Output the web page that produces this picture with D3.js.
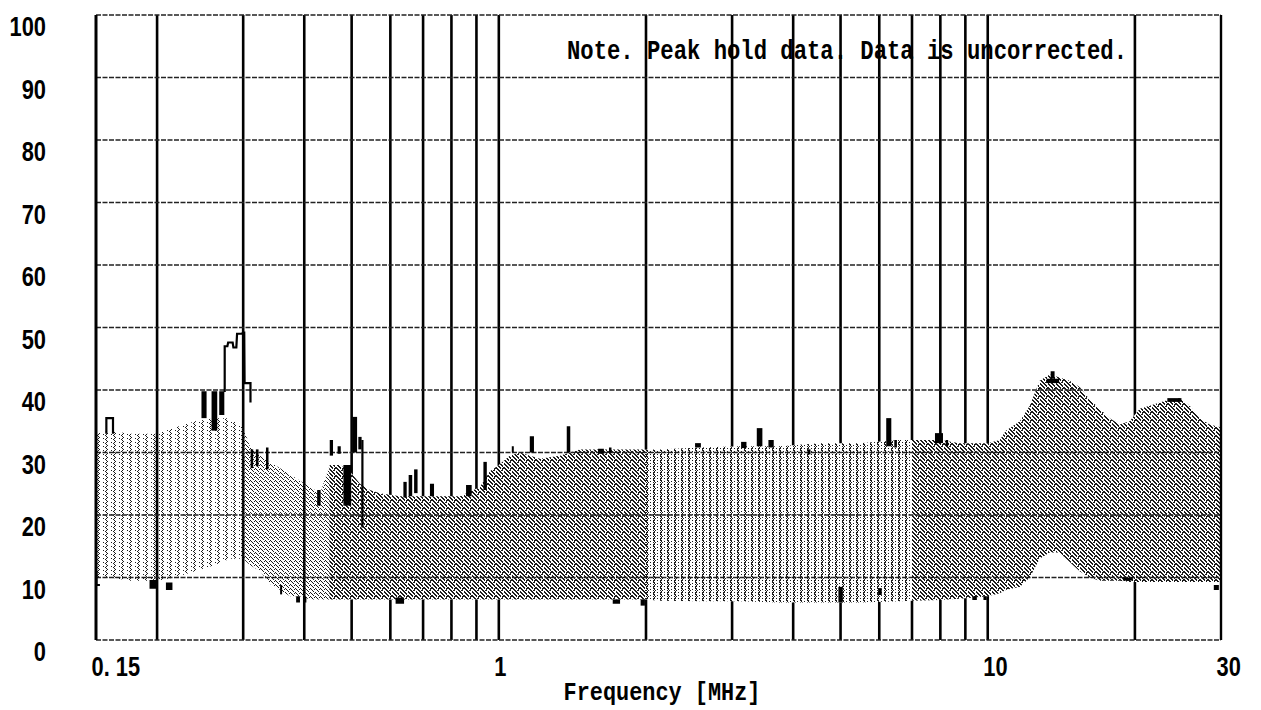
<!DOCTYPE html>
<html>
<head>
<meta charset="utf-8">
<script src="https://cdn.jsdelivr.net/npm/d3@7"></script>
<style>
  html, body { margin: 0; padding: 0; background: #fff; }
  svg { display: block; }
</style>
</head>
<body>
<svg id="chart" width="1261" height="710"></svg>
<script>
// ---- data -------------------------------------------------------------
const levelTicks = [0, 10, 20, 30, 40, 50, 60, 70, 80, 90, 100];
const freqTickValues = [0.15, 1, 10, 30];
const freqTickLabels = ["0. 15", "1", "10", "30"];
const gridFreqs = [0.2, 0.3, 0.4, 0.5, 0.6, 0.7, 0.8, 0.9, 1,
                   2, 3, 4, 5, 6, 7, 8, 9, 10, 20];

// envelope of the swept emission (MHz, dBuV)
const bandFreq   = [0.15, 0.16, 0.176, 0.193, 0.2, 0.2176, 0.239, 0.2627, 0.282, 0.30,
                    0.3097, 0.325, 0.34, 0.357, 0.374, 0.392, 0.411, 0.431, 0.451, 0.473,
                    0.496, 0.52, 0.545, 0.571, 0.628, 0.69, 0.758, 0.833, 0.915, 0.959,
                    1.0, 1.053, 1.104, 1.213, 1.332, 1.464, 1.609, 1.768, 1.99, 2.134,
                    2.576, 3.11, 3.755, 4.533, 5.473, 6.607, 7.976, 8.764, 10, 10.58,
                    10.89, 11.63, 12.19, 12.77, 13.39, 14.03, 14.71, 15.42, 16.16, 16.94,
                    17.76, 18.62, 19.51, 20.46, 21.44, 22.47, 23.56, 24.7, 25.89, 27.13,
                    28.44, 30];
const bandTop    = [33, 33.5, 33, 33, 33, 34, 35, 35.5, 35.5, 34,
                    31, 29.5, 28.5, 27.5, 26.5, 25.5, 24.5, 23.5, 28, 28,
                    27, 25, 24, 23.5, 23, 23, 23, 23, 24.5, 27,
                    28, 29.5, 30, 29, 29.5, 30.5, 30.5, 30.5, 30.5, 30.5,
                    30.8, 31, 31, 31.5, 31.5, 32, 32, 31.5, 31.5, 32,
                    33.5, 35, 37.5, 41.5, 42.5, 42, 41.5, 40.5, 38.5, 37,
                    35.5, 34.5, 35, 37, 37.5, 38, 38.5, 38.7, 37.5, 35.5,
                    34.5, 34];
const bandBottom = [10, 10, 9.5, 9.5, 9.5, 10, 11, 12, 13, 13,
                    12, 11, 9, 8, 7, 7, 6.5, 6.5, 6.5, 6.5,
                    6.5, 6.5, 6.5, 6.5, 6.5, 6.5, 6.5, 6.5, 6.5, 6.5,
                    6.5, 6.5, 6.5, 6.5, 6.5, 6.5, 6.5, 6.5, 6.5, 6.3,
                    6.2, 6.2, 6, 6, 6, 6.2, 6.4, 6.6, 7, 7.5,
                    8, 8.5, 10, 13, 14, 14, 12.5, 11, 10, 9.5,
                    9.5, 9.5, 9.3, 9.3, 9.3, 9.3, 9.3, 9.3, 9.3, 9.3,
                    9.3, 9.3];

// frequency ranges of the different sweep densities
const zoneEdges = [0.15, 0.30, 0.45, 2.0, 7.0, 30];
const zoneKinds = ["sparse", "medium", "dense", "stripe", "dense"];

// peak-hold trace outlines: [MHz, dBuV]
const traceSegments = [
  [[0.1575, 33], [0.1575, 35.5], [0.1625, 35.5], [0.1625, 33]],
  [[0.1503, 11], [0.1503, 8.8], [0.1528, 8.8]],
  [[0.275, 39.7], [0.275, 47], [0.2785, 47], [0.2795, 47.6], [0.2855, 47.6],
   [0.2865, 46.8], [0.2905, 46.8], [0.2915, 49], [0.2985, 49], [0.2995, 49.2],
   [0.3015, 49.2], [0.302, 41.1], [0.3105, 41.1], [0.3105, 38]],
  [[0.526, 32], [0.526, 18]]
];

// peak-hold blocks: [f start MHz, f end MHz, top dBuV, bottom dBuV]
const peakBars = [
  [0.193, 0.199, 9.6, 8.2], [0.2085, 0.215, 9.2, 8.0],
  [0.2465, 0.2525, 39.8, 35.5], [0.2585, 0.2655, 39.8, 33.5], [0.268, 0.2745, 39.8, 36],
  [0.2985, 0.3025, 49.2, 41.1],
  [0.3107, 0.3145, 30.5, 27.5], [0.3185, 0.3225, 30.5, 27.8], [0.334, 0.338, 30.8, 27.3],
  [0.357, 0.3595, 8.8, 7.3], [0.385, 0.392, 7, 6], [0.398, 0.404, 6.9, 6],
  [0.425, 0.432, 24, 21.5], [0.451, 0.458, 32, 29.5], [0.468, 0.475, 31, 29.8],
  [0.481, 0.499, 28, 21.5], [0.502, 0.513, 35.7, 30], [0.516, 0.524, 32.5, 30.5],
  [0.615, 0.64, 6.8, 5.8], [0.638, 0.648, 25.3, 22.8], [0.654, 0.665, 26.4, 23],
  [0.671, 0.682, 27.3, 23.5], [0.723, 0.737, 25, 23], [0.857, 0.88, 24.8, 23],
  [0.93, 0.945, 28.5, 24], [1.063, 1.073, 31, 30], [1.157, 1.18, 32.6, 30],
  [1.377, 1.40, 34.2, 30], [1.596, 1.64, 30.6, 29.8], [1.68, 1.70, 30.8, 30],
  [1.71, 1.77, 6.5, 5.8], [1.95, 1.99, 6.5, 5.5],
  [2.52, 2.59, 31.5, 30.8], [3.13, 3.21, 31.7, 30.7], [3.37, 3.46, 33.9, 31],
  [3.56, 3.65, 32, 30.8], [4.28, 4.34, 30.5, 29.7], [4.95, 5.05, 8.5, 6],
  [5.97, 6.07, 8.3, 7.2], [6.2, 6.35, 35.5, 31], [6.44, 6.52, 32, 30.8],
  [7.8, 8.1, 33.1, 31.5], [8.2, 8.3, 32, 31], [9.3, 9.5, 7, 6.4], [9.8, 9.95, 7, 6.4],
  [13.2, 14.0, 41.8, 41.1], [13.45, 13.7, 43, 41.8], [18.9, 19.8, 10, 9.5],
  [23.3, 24.9, 38.7, 38.1], [29, 29.7, 8.8, 8]
];

// ---- layout -----------------------------------------------------------
const svg = d3.select("#chart");
const x = d3.scaleLog().domain([0.15, 30]).range([96, 1221]);
const y = d3.scaleLinear().domain([0, 100]).range([640, 15]);

const labelFont = "'Liberation Sans','Arial',sans-serif";
const labelSquash = 0.78;   // condensed look of the tick numerals
const monoFont = "'Liberation Mono','DejaVu Sans Mono',monospace";

// ---- dot textures for the swept trace ----------------------------------
const tiles = {
  dense:  ["XX..XX..", ".XX..XX.", "..XX..X.", "X..XX..X",
           "XX..X.XX", ".XX...X.", "..XX.XX.", "X..XX..."],
  stripe: ["..XX...", "...X..X", "..X.X..", "...X...", "..XX..X", "..X...."],
  sparse: ["..X.....", "...X....", "..X....X", ".X......"],
  medium: ["X....", ".X..X", "..X..", "...X."]
};
const defs = svg.append("defs");
Object.entries(tiles).forEach(([name, rows]) => {
  const p = defs.append("pattern")
    .attr("id", "tex-" + name)
    .attr("patternUnits", "userSpaceOnUse")
    .attr("width", rows[0].length)
    .attr("height", rows.length);
  let d = "";
  rows.forEach((r, j) => {
    [...r].forEach((c, i) => { if (c === "X") d += `M${i},${j}h1v1h-1z`; });
  });
  p.append("path").attr("d", d).attr("fill", "#1c1c1c")
    .attr("shape-rendering", "crispEdges");
});

// ---- vertical grid ------------------------------------------------------
svg.append("g")
  .selectAll("line")
  .data(gridFreqs)
  .join("line")
  .attr("x1", d => x(d)).attr("x2", d => x(d))
  .attr("y1", y(100)).attr("y2", y(0))
  .attr("stroke", "#000").attr("stroke-width", 2.6);

// ---- swept band ----------------------------------------------------------
const bandData = bandFreq.map((f, i) => ({ f, hi: bandTop[i], lo: bandBottom[i] }));
const area = d3.area()
  .x(d => x(d.f))
  .y0(d => y(d.lo))
  .y1(d => y(d.hi));

zoneKinds.forEach((kind, i) => {
  const id = "zone-" + i;
  defs.append("clipPath").attr("id", id)
    .append("rect")
    .attr("x", x(zoneEdges[i]))
    .attr("width", x(zoneEdges[i + 1]) - x(zoneEdges[i]))
    .attr("y", y(100)).attr("height", y(0) - y(100));
  const g = svg.append("g").attr("clip-path", `url(#${id})`);
  if (kind === "dense" || kind === "stripe") {
    g.append("path").datum(bandData).attr("d", area).attr("fill", "#fff");
  }
  g.append("path").datum(bandData).attr("d", area)
    .attr("fill", `url(#tex-${kind})`);
});

// ---- horizontal grid -----------------------------------------------------
svg.append("g")
  .selectAll("line")
  .data(levelTicks)
  .join("line")
  .attr("x1", x(0.15)).attr("x2", x(30))
  .attr("y1", d => y(d)).attr("y2", d => y(d))
  .attr("stroke", "#222").attr("stroke-width", 1.4)
  .attr("stroke-dasharray", "5 1.5");

// frame edges
svg.append("line")
  .attr("x1", x(0.15)).attr("x2", x(0.15)).attr("y1", y(100)).attr("y2", y(0))
  .attr("stroke", "#000").attr("stroke-width", 3);
svg.append("line")
  .attr("x1", x(30)).attr("x2", x(30)).attr("y1", y(100)).attr("y2", y(0))
  .attr("stroke", "#000").attr("stroke-width", 2.4);

// ---- peak-hold marks -----------------------------------------------------
svg.append("g")
  .selectAll("rect")
  .data(peakBars)
  .join("rect")
  .attr("x", d => x(d[0]))
  .attr("width", d => Math.max(2, x(d[1]) - x(d[0])))
  .attr("y", d => y(d[2]))
  .attr("height", d => Math.max(2, y(d[3]) - y(d[2])))
  .attr("fill", "#000");

const traceLine = d3.line().x(d => x(d[0])).y(d => y(d[1]));
svg.append("g")
  .selectAll("path")
  .data(traceSegments)
  .join("path")
  .attr("d", traceLine)
  .attr("fill", "none")
  .attr("stroke", "#000")
  .attr("stroke-width", 2.2);

// ---- axes labels ---------------------------------------------------------
const yAxis = svg.append("g")
  .attr("transform", "translate(46,0)")
  .call(d3.axisLeft(y).tickValues(levelTicks).tickSize(0).tickPadding(0));
yAxis.select(".domain").remove();
yAxis.selectAll("text")
  .attr("x", 0)
  .attr("dy", "0.35em")
  .attr("transform", `translate(0,11) scale(${labelSquash},1)`)
  .attr("fill", "#000")
  .style("font-family", labelFont)
  .style("font-weight", "bold")
  .style("font-size", "28px");

const xAxis = svg.append("g")
  .attr("transform", `translate(0,${y(0)})`)
  .call(d3.axisBottom(x).tickValues(freqTickValues)
    .tickFormat((d, i) => freqTickLabels[i]).tickSize(0));
xAxis.select(".domain").remove();
xAxis.selectAll("text")
  .attr("dy", null)
  .attr("y", 36)
  .attr("x", -5 / labelSquash)
  .attr("transform", `scale(${labelSquash},1)`)
  .attr("text-anchor", "start")
  .attr("fill", "#000")
  .style("font-family", labelFont)
  .style("font-weight", "bold")
  .style("font-size", "28px");

svg.append("text")
  .attr("x", 662).attr("y", 700)
  .attr("text-anchor", "middle")
  .attr("textLength", 197).attr("lengthAdjust", "spacingAndGlyphs")
  .style("font-family", monoFont).style("font-weight", "bold").style("font-size", "25px")
  .text("Frequency [MHz]");

svg.append("text")
  .attr("x", 567).attr("y", 59)
  .attr("textLength", 560).attr("lengthAdjust", "spacingAndGlyphs")
  .style("font-family", monoFont).style("font-weight", "bold").style("font-size", "27px")
  .text("Note. Peak hold data. Data is uncorrected.");
</script>
</body>
</html>
